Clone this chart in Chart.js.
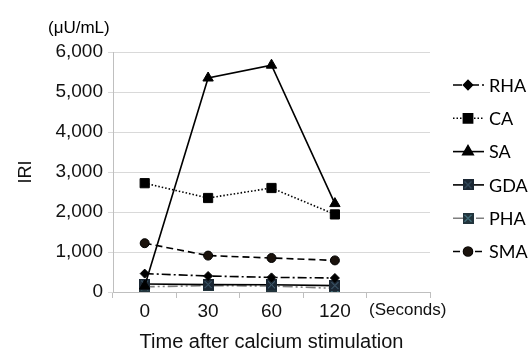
<!DOCTYPE html>
<html>
<head>
<meta charset="utf-8">
<script src="https://cdn.jsdelivr.net/npm/chart.js@4.4.1/dist/chart.umd.min.js"></script>
<style>
  html, body { margin: 0; padding: 0; background: #fff; }
  .chart-wrap { width: 530px; height: 352px; position: relative; }
</style>
</head>
<body>
<div class="chart-wrap"><canvas id="iriChart"></canvas></div>
<script>
// time points (last slot only carries the unit label)
const timeLabels = ['0', '30', '60', '120', '    (Seconds)'];
const seriesNames = ['RHA', 'CA', 'SA', 'GDA', 'PHA', 'SMA'];

// IRI, µU/mL
const rhaValues = [460, 400, 365, 350, null];
const caValues = [2720, 2350, 2600, 1940, null];
const saValues = [150, 5350, 5670, 2210, null];
const gdaValues = [200, 185, 180, 160, null];
const phaValues = [130, 160, 150, 90, null];
const smaValues = [1220, 910, 850, 790, null];

const yTicks = [0, 1000, 2000, 3000, 4000, 5000, 6000];

const AXIS_FONT = "'Liberation Sans', Arial, sans-serif";

// boxed square marker with a cross, used by GDA and PHA
const crossBox = (fill, cross) => {
    const c = document.createElement('canvas');
    c.width = 11; c.height = 11;
    const g = c.getContext('2d');
    g.fillStyle = fill;
    g.fillRect(0, 0, 11, 11);
    g.strokeStyle = cross;
    g.lineWidth = 1;
    g.beginPath();
    g.moveTo(2, 2); g.lineTo(9, 9);
    g.moveTo(9, 2); g.lineTo(2, 9);
    g.stroke();
    return c;
};

const line = (label, data, opts) => Object.assign({
    label, data,
    borderColor: '#000',
    backgroundColor: '#000',
    pointBackgroundColor: '#000',
    pointBorderColor: '#000',
    borderWidth: 1.6,
    pointBorderWidth: 1,
    tension: 0,
    fill: false,
    spanGaps: false
}, opts);

const datasets = [
    line(seriesNames[0], rhaValues, { borderDash: [9, 3, 2, 3], pointStyle: 'rectRot', pointRadius: 4.5 }),
    line(seriesNames[1], caValues, { borderDash: [1.5, 2], pointStyle: 'rect', pointRadius: 6.5 }),
    line(seriesNames[2], saValues, { borderDash: [], pointStyle: 'triangle', pointRadius: 6 }),
    line(seriesNames[3], gdaValues, { borderDash: [], pointStyle: crossBox('#1b2733', '#4a6a80') }),
    line(seriesNames[4], phaValues, { borderColor: '#7f7f7f', borderDash: [10, 3, 2, 3, 2, 3], pointStyle: crossBox('#22343c', '#5fa0b0') }),
    line(seriesNames[5], smaValues, { borderDash: [7, 4], pointStyle: 'circle', pointRadius: 4.5, pointBackgroundColor: '#1a120c' })
];

// right-side legend: line sample + marker, and the unit note above the y axis
const sideLegend = {
    id: 'sideLegend',
    afterDraw(chart) {
        const ctx = chart.ctx;
        ctx.save();
        ctx.fillStyle = '#000';
        ctx.font = "17px " + AXIS_FONT;
        ctx.textAlign = 'left';
        ctx.textBaseline = 'middle';
        ctx.fillText('(\u03bcU/mL)', 48, 28);

        const top = 85, gap = 33.3;
        chart.data.datasets.forEach((ds, i) => {
            const y = top + i * gap;
            ctx.strokeStyle = ds.borderColor;
            ctx.lineWidth = ds.borderWidth;
            ctx.setLineDash(ds.borderDash || []);
            ctx.beginPath();
            ctx.moveTo(453, y);
            ctx.lineTo(484, y);
            ctx.stroke();
            ctx.setLineDash([]);
            ctx.fillStyle = ds.pointBackgroundColor;
            Chart.helpers.drawPoint(ctx, {
                pointStyle: ds.pointStyle,
                radius: ds.pointRadius || 5,
                rotation: 0,
                borderWidth: 1
            }, 468, y);
            if (typeof ds.pointStyle === 'string') ctx.fill();
            ctx.fillStyle = '#000';
            ctx.font = "18px Lato, 'Open Sans', sans-serif";
            ctx.fillText(ds.label, 489, y + 1);
        });
        ctx.restore();
    }
};

new Chart(document.getElementById('iriChart'), {
    type: 'line',
    data: { labels: timeLabels, datasets },
    options: {
        responsive: true,
        maintainAspectRatio: false,
        animation: false,
        layout: { padding: { left: 0, right: 100, top: 52, bottom: 0 } },
        plugins: { legend: { display: false }, tooltip: { enabled: false } },
        scales: {
            x: {
                type: 'category',
                offset: true,
                afterFit: (s) => { s.height = 60; },
                grid: { offset: true, drawOnChartArea: false, tickLength: 6, color: '#bfbfbf' },
                border: { color: '#bfbfbf' },
                ticks: {
                    color: '#111',
                    font: (c) => ({ family: AXIS_FONT, size: c.index === 4 ? 17 : 19 }),
                    padding: 2,
                    maxRotation: 0,
                    autoSkip: false
                },
                title: {
                    display: true,
                    text: 'Time after calcium stimulation',
                    color: '#111',
                    font: { family: AXIS_FONT, size: 20 },
                    padding: { top: 0, bottom: -2 }
                }
            },
            y: {
                min: 0,
                max: 6000,
                afterFit: (s) => { s.width = 113; },
                afterBuildTicks: (s) => { s.ticks = yTicks.map(v => ({ value: v })); },
                grid: { color: '#d9d9d9', tickLength: 5 },
                border: { color: '#bfbfbf' },
                ticks: {
                    color: '#111',
                    font: { family: AXIS_FONT, size: 19 },
                    padding: 5,
                    callback: (v) => v.toLocaleString('en-US')
                },
                title: {
                    display: true,
                    text: 'IRI',
                    color: '#111',
                    font: { family: AXIS_FONT, size: 18 },
                    padding: { top: 15, bottom: 0 }
                }
            }
        }
    },
    plugins: [sideLegend]
});
</script>
</body>
</html>
